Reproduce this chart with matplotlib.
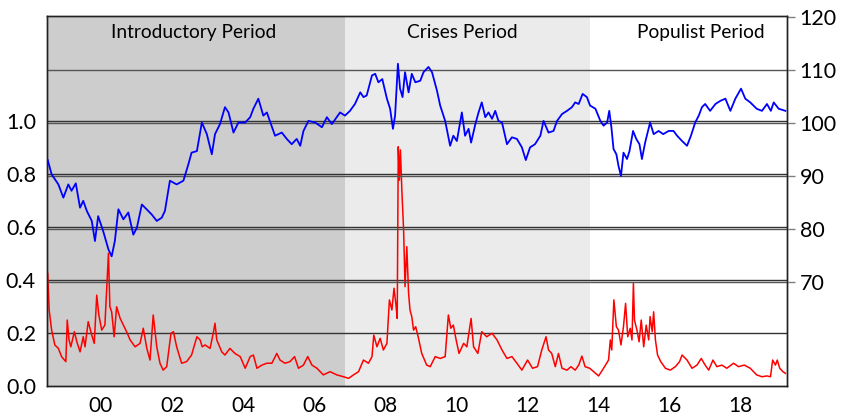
import matplotlib
matplotlib.use("Agg")
import matplotlib.pyplot as plt

# blue index (right axis)
blue_t = [1998.50, 1998.61, 1998.80, 1998.94, 1999.08, 1999.17, 1999.29, 1999.41, 1999.50, 1999.60,
          1999.74, 1999.83, 1999.92, 2000.06, 2000.21, 2000.30, 2000.39, 2000.49, 2000.63, 2000.77,
          2000.91, 2001.01, 2001.15, 2001.24, 2001.43, 2001.57, 2001.71, 2001.80, 2001.94, 2002.13,
          2002.32, 2002.46, 2002.55, 2002.70, 2002.84, 2002.98, 2003.12, 2003.21, 2003.35, 2003.49,
          2003.59, 2003.73, 2003.87, 2004.06, 2004.20, 2004.29, 2004.43, 2004.57, 2004.67, 2004.90,
          2005.09, 2005.23, 2005.37, 2005.51, 2005.61, 2005.70, 2005.84, 2006.03, 2006.22, 2006.36,
          2006.50, 2006.73, 2006.87, 2007.01, 2007.15, 2007.30, 2007.39, 2007.48, 2007.63, 2007.72,
          2007.81, 2007.92, 2008.05, 2008.14, 2008.22, 2008.28, 2008.36, 2008.42, 2008.49, 2008.56,
          2008.66, 2008.75, 2008.85, 2008.99, 2009.08, 2009.22, 2009.32, 2009.46, 2009.55, 2009.69,
          2009.83, 2009.92, 2010.02, 2010.16, 2010.25, 2010.35, 2010.42, 2010.54, 2010.63, 2010.72,
          2010.82, 2010.91, 2011.01, 2011.10, 2011.19, 2011.29, 2011.43, 2011.57, 2011.71, 2011.85,
          2011.96, 2012.08, 2012.22, 2012.37, 2012.46, 2012.60, 2012.74, 2012.84, 2012.98, 2013.12,
          2013.26, 2013.35, 2013.45, 2013.56, 2013.68, 2013.77, 2013.92, 2014.06, 2014.15, 2014.25,
          2014.31, 2014.37, 2014.43, 2014.51, 2014.57, 2014.64, 2014.71, 2014.81, 2014.88, 2014.98,
          2015.07, 2015.16, 2015.23, 2015.32, 2015.46, 2015.56, 2015.70, 2015.83, 2015.98, 2016.12,
          2016.22, 2016.36, 2016.50, 2016.61, 2016.73, 2016.83, 2016.92, 2017.01, 2017.15, 2017.30,
          2017.44, 2017.58, 2017.72, 2017.86, 2018.02, 2018.14, 2018.28, 2018.46, 2018.61, 2018.75,
          2018.86, 2018.94, 2019.08, 2019.27]
blue_v = [93.0, 90.3, 88.4, 85.9, 88.4, 87.2, 88.6, 84.0, 85.3, 83.4,
          81.5, 77.7, 82.4, 79.6, 76.1, 74.8, 77.7, 83.7, 81.8, 83.1,
          78.9, 80.2, 84.6, 84.0, 82.7, 81.5, 82.1, 83.4, 89.1, 88.4,
          89.1, 92.2, 94.4, 94.7, 100.1, 97.9, 94.1, 97.9, 99.8, 103.0,
          102.0, 98.2, 100.1, 100.1, 101.1, 102.7, 104.6, 101.4, 102.0, 97.6,
          98.2, 97.0, 96.0, 97.0, 95.7, 98.5, 100.4, 100.1, 99.2, 101.1,
          99.8, 102.0, 101.4, 102.3, 103.6, 105.8, 104.9, 105.2, 109.0, 109.3,
          107.7, 108.3, 104.6, 102.7, 98.9, 101.4, 111.2, 106.5, 104.9, 109.6,
          105.8, 109.3, 107.7, 108.0, 109.6, 110.6, 109.6, 106.1, 103.3, 100.4,
          95.7, 97.6, 96.6, 102.0, 97.6, 98.9, 96.3, 99.8, 102.0, 103.9,
          101.1, 102.0, 100.8, 102.3, 100.4, 100.1, 96.0, 97.3, 97.0, 95.4,
          93.0, 95.4, 96.0, 97.6, 100.4, 98.2, 98.5, 100.4, 101.7, 102.3,
          103.0, 103.9, 103.6, 105.5, 104.9, 103.3, 102.7, 100.4, 99.5, 100.1,
          102.3, 99.2, 95.1, 94.1, 91.9, 90.0, 94.4, 93.2, 94.7, 98.5,
          97.0, 96.0, 93.2, 96.3, 100.1, 97.9, 98.5, 97.9, 98.5, 98.5,
          97.6, 96.6, 95.7, 97.6, 100.1, 101.4, 103.0, 103.6, 102.3, 103.6,
          104.2, 104.6, 102.3, 104.6, 106.5, 104.6, 103.9, 102.7, 102.3, 103.6,
          102.3, 103.9, 102.7, 102.3]

# red series (left axis)
red_t = [1998.50, 1998.54, 1998.61, 1998.70, 1998.80, 1998.89, 1999.01, 1999.05, 1999.10, 1999.15,
         1999.25, 1999.32, 1999.41, 1999.50, 1999.55, 1999.64, 1999.74, 1999.81, 1999.88, 1999.94,
         2000.02, 2000.11, 2000.21, 2000.25, 2000.30, 2000.37, 2000.44, 2000.54, 2000.63, 2000.72,
         2000.82, 2000.96, 2001.10, 2001.19, 2001.29, 2001.38, 2001.47, 2001.57, 2001.66, 2001.75,
         2001.85, 2001.97, 2002.04, 2002.13, 2002.27, 2002.41, 2002.55, 2002.70, 2002.79, 2002.85,
         2002.93, 2003.07, 2003.16, 2003.21, 2003.26, 2003.40, 2003.49, 2003.63, 2003.77, 2003.92,
         2004.06, 2004.20, 2004.29, 2004.39, 2004.53, 2004.67, 2004.81, 2004.95, 2005.04, 2005.18,
         2005.32, 2005.45, 2005.56, 2005.70, 2005.82, 2005.94, 2006.08, 2006.26, 2006.45, 2006.64,
         2006.83, 2006.97, 2007.11, 2007.25, 2007.39, 2007.53, 2007.63, 2007.68, 2007.77, 2007.86,
         2007.95, 2008.05, 2008.12, 2008.19, 2008.25, 2008.30, 2008.34, 2008.37, 2008.40, 2008.43,
         2008.47, 2008.52, 2008.56, 2008.61, 2008.66, 2008.70, 2008.75, 2008.80, 2008.86, 2008.94,
         2009.03, 2009.17, 2009.27, 2009.41, 2009.55, 2009.69, 2009.78, 2009.85, 2009.92, 2009.99,
         2010.08, 2010.21, 2010.30, 2010.42, 2010.49, 2010.61, 2010.72, 2010.86, 2011.01, 2011.15,
         2011.29, 2011.43, 2011.57, 2011.71, 2011.85, 2012.01, 2012.15, 2012.29, 2012.41, 2012.53,
         2012.60, 2012.69, 2012.79, 2012.88, 2012.98, 2013.12, 2013.23, 2013.35, 2013.45, 2013.54,
         2013.63, 2013.76, 2013.87, 2014.01, 2014.15, 2014.29, 2014.34, 2014.38, 2014.44, 2014.51,
         2014.57, 2014.64, 2014.71, 2014.77, 2014.83, 2014.90, 2014.95, 2014.99, 2015.02, 2015.09,
         2015.15, 2015.21, 2015.28, 2015.35, 2015.42, 2015.46, 2015.52, 2015.56, 2015.61, 2015.67,
         2015.76, 2015.89, 2016.03, 2016.17, 2016.29, 2016.36, 2016.50, 2016.64, 2016.78, 2016.90,
         2017.01, 2017.11, 2017.23, 2017.34, 2017.48, 2017.62, 2017.81, 2017.95, 2018.11, 2018.28,
         2018.46, 2018.61, 2018.75, 2018.85, 2018.91, 2018.99, 2019.04, 2019.11, 2019.20, 2019.27]
red_v = [0.425, 0.287, 0.211, 0.155, 0.142, 0.111, 0.092, 0.249, 0.174, 0.148,
         0.205, 0.167, 0.129, 0.186, 0.148, 0.243, 0.192, 0.161, 0.343, 0.268,
         0.211, 0.230, 0.501, 0.299, 0.280, 0.186, 0.299, 0.255, 0.230, 0.205,
         0.174, 0.148, 0.161, 0.218, 0.142, 0.098, 0.268, 0.148, 0.086, 0.060,
         0.073, 0.199, 0.205, 0.148, 0.086, 0.092, 0.117, 0.186, 0.174, 0.148,
         0.155, 0.142, 0.199, 0.237, 0.174, 0.129, 0.117, 0.142, 0.123, 0.111,
         0.067, 0.111, 0.117, 0.067, 0.079, 0.086, 0.086, 0.123, 0.098, 0.086,
         0.092, 0.111, 0.067, 0.079, 0.111, 0.079, 0.067, 0.042, 0.054, 0.042,
         0.035, 0.029, 0.042, 0.054, 0.098, 0.086, 0.111, 0.192, 0.148, 0.180,
         0.136, 0.161, 0.325, 0.287, 0.369, 0.312, 0.255, 0.903, 0.777, 0.891,
         0.740, 0.589, 0.375, 0.526, 0.350, 0.287, 0.262, 0.211, 0.224, 0.180,
         0.123, 0.079, 0.073, 0.111, 0.104, 0.111, 0.268, 0.218, 0.230, 0.180,
         0.123, 0.161, 0.148, 0.255, 0.148, 0.123, 0.205, 0.186, 0.199, 0.174,
         0.136, 0.104, 0.111, 0.086, 0.060, 0.098, 0.067, 0.073, 0.136, 0.186,
         0.136, 0.123, 0.073, 0.123, 0.067, 0.060, 0.073, 0.060, 0.079, 0.113,
         0.073, 0.067, 0.054, 0.038, 0.067, 0.098, 0.174, 0.136, 0.325, 0.224,
         0.211, 0.155, 0.224, 0.312, 0.186, 0.218, 0.174, 0.388, 0.249, 0.211,
         0.167, 0.249, 0.148, 0.230, 0.174, 0.262, 0.205, 0.280, 0.174, 0.117,
         0.092, 0.067, 0.060, 0.073, 0.092, 0.117, 0.098, 0.067, 0.079, 0.104,
         0.079, 0.060, 0.098, 0.073, 0.079, 0.067, 0.086, 0.073, 0.079, 0.067,
         0.042, 0.035, 0.038, 0.035, 0.098, 0.079, 0.098, 0.067, 0.054, 0.048]

periods = ["Introductory Period", "Crises Period", "Populist Period"]
period_start = [1998.5, 2006.88, 2013.76]
period_end = [2006.88, 2013.76, 2019.32]
period_color = ["#cdcdcd", "#ebebeb", "#ffffff"]
label_x = [2002.62, 2010.16, 2016.88]

year_ticks = list(range(2000, 2019, 2))
year_labels = ["%02d" % (y % 100) for y in year_ticks]

plt.rcParams["font.family"] = ["Lato", "DejaVu Sans"]

fig = plt.figure(figsize=(8.44, 4.17), dpi=100)
ax = fig.add_axes([0.0557, 0.0743, 0.877, 0.887])
ax2 = ax.twinx()

for s, e, c in zip(period_start, period_end, period_color):
    ax.axvspan(s, e, color=c, lw=0, zorder=0)

ax.plot(red_t, red_v, color="#ff0000", lw=1.1, zorder=3)
ax2.plot(blue_t, blue_v, color="#0000ff", lw=1.3, zorder=3)

ax.set_xlim(1998.48, 2019.32)
ax.set_ylim(0, 1.396)
ax2.set_ylim(50.3, 120.2)

ax.set_yticks([0.0, 0.2, 0.4, 0.6, 0.8, 1.0])
ax.set_yticklabels(["%.1f" % v for v in [0.0, 0.2, 0.4, 0.6, 0.8, 1.0]])
ax2.set_yticks([70, 80, 90, 100, 110, 120])
ax.set_xticks(year_ticks)
ax.set_xticklabels(year_labels)

for v in [0.2, 0.4, 0.6, 0.8, 1.0]:
    ax.axhline(v, color="#333333", lw=1.0, zorder=2)
for v in [70, 80, 90, 100, 110]:
    ax2.axhline(v, color="#555555", lw=1.0, zorder=1)

ax.tick_params(axis="y", length=0, pad=8, labelsize=15.5)
ax.tick_params(axis="x", length=0, pad=7, labelsize=15)
ax2.tick_params(axis="y", length=6, width=1, color="#808080", pad=3, labelsize=15.5)

for sp in list(ax.spines.values()) + list(ax2.spines.values()):
    sp.set_color("#222222")
    sp.set_linewidth(1.0)

for name, x in zip(periods, label_x):
    ax.text(x, 1.335, name, ha="center", va="center", fontsize=13.8, color="#000000", zorder=5)

fig.savefig("out.png", dpi=100)
